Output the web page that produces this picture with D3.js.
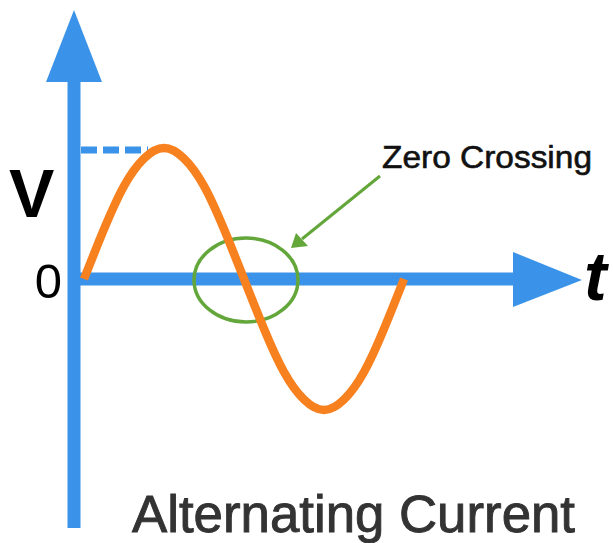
<!DOCTYPE html>
<html>
<head>
<meta charset="utf-8">
<script src="https://cdn.jsdelivr.net/npm/d3@7"></script>
<style>
  html, body { margin: 0; padding: 0; background: #fff; }
  svg { display: block; }
  text { font-family: 'Liberation Sans', Arial, Helvetica, sans-serif; }
</style>
</head>
<body>
<svg id="chart" width="613" height="543"></svg>
<script>
// ---- data ----
const phaseDeg = [0, 22.5, 45, 67.5, 90, 112.5, 135, 157.5, 180, 202.5, 225, 247.5, 270, 292.5, 315, 337.5, 360];
const voltage  = [0, 0.38, 0.71, 0.92, 1, 0.92, 0.71, 0.38, 0, -0.38, -0.71, -0.92, -1, -0.92, -0.71, -0.38, 0];
const zeroCrossingPhase = [180];
const axisLabels = { v: "V", zero: "0", t: "t" };
const annotationText = ["Zero Crossing"];
const titleText = ["Alternating Current"];

// ---- drawing ----
const svg = d3.select("#chart");
const blue = "#3a93e8", orange = "#f7801f", green = "#63a63a";

const x = d3.scaleLinear().domain([0, 360]).range([84, 404]);
const y = d3.scaleLinear().domain([-1, 1]).range([410, 148]);
const y0 = y(0);

// vertical axis
svg.append("line").attr("x1", 74).attr("x2", 74).attr("y1", 528).attr("y2", 78)
  .attr("stroke", blue).attr("stroke-width", 13);
svg.append("path").attr("d", d3.line()([[46, 82], [74, 10], [102, 82]]) + "Z").attr("fill", blue);

// horizontal axis
svg.append("line").attr("x1", 68).attr("x2", 516).attr("y1", y0).attr("y2", y0)
  .attr("stroke", blue).attr("stroke-width", 13);
svg.append("path").attr("d", d3.line()([[513, y0 - 27], [582, y0 + 1], [513, y0 + 28]]) + "Z").attr("fill", blue);

// dashed peak marker
svg.append("line").attr("x1", 81).attr("x2", x(72)).attr("y1", y(1) + 2).attr("y2", y(1) + 2)
  .attr("stroke", blue).attr("stroke-width", 7).attr("stroke-dasharray", "16,6");

// zero-crossing ellipse
svg.selectAll("ellipse.zc").data(zeroCrossingPhase).join("ellipse")
  .attr("cx", d => x(d) + 2).attr("cy", y0 + 1).attr("rx", 52).attr("ry", 42)
  .attr("fill", "none").attr("stroke", green).attr("stroke-width", 3.5);

// sine wave
const pts = phaseDeg.map((p, i) => [x(p), y(voltage[i])]);
svg.append("path").attr("d", d3.line().curve(d3.curveNatural)(pts))
  .attr("fill", "none").attr("stroke", orange).attr("stroke-width", 8.5)
  .attr("stroke-linecap", "butt");

// green pointer arrow
svg.append("line").attr("x1", 380).attr("y1", 176).attr("x2", 302).attr("y2", 239)
  .attr("stroke", green).attr("stroke-width", 3);
svg.append("path").attr("d", d3.line()([[291, 248], [296, 233], [308, 246]]) + "Z").attr("fill", green);

// labels
svg.append("text").attr("x", 9).attr("y", 217).text(axisLabels.v)
  .attr("font-weight", "bold").attr("font-size", 68).attr("fill", "#000");
svg.append("text").attr("x", 62).attr("y", 298).attr("text-anchor", "end").text(axisLabels.zero)
  .attr("font-size", 49).attr("fill", "#000");
svg.append("text").attr("x", 584).attr("y", 300).text(axisLabels.t)
  .attr("font-weight", "bold").attr("font-style", "italic").attr("font-size", 68).attr("fill", "#000");

svg.selectAll("text.ann").data(annotationText).join("text").attr("class", "ann")
  .attr("x", 382).attr("y", 168).text(d => d)
  .attr("font-size", 32).attr("textLength", 210).attr("lengthAdjust", "spacingAndGlyphs")
  .attr("fill", "#111").attr("stroke", "#111").attr("stroke-width", 0.6);

svg.selectAll("text.title").data(titleText).join("text").attr("class", "title")
  .attr("x", 132).attr("y", 532).text(d => d)
  .attr("font-size", 51).attr("textLength", 443).attr("lengthAdjust", "spacingAndGlyphs")
  .attr("fill", "#333").attr("stroke", "#333").attr("stroke-width", 0.9);
</script>
</body>
</html>
